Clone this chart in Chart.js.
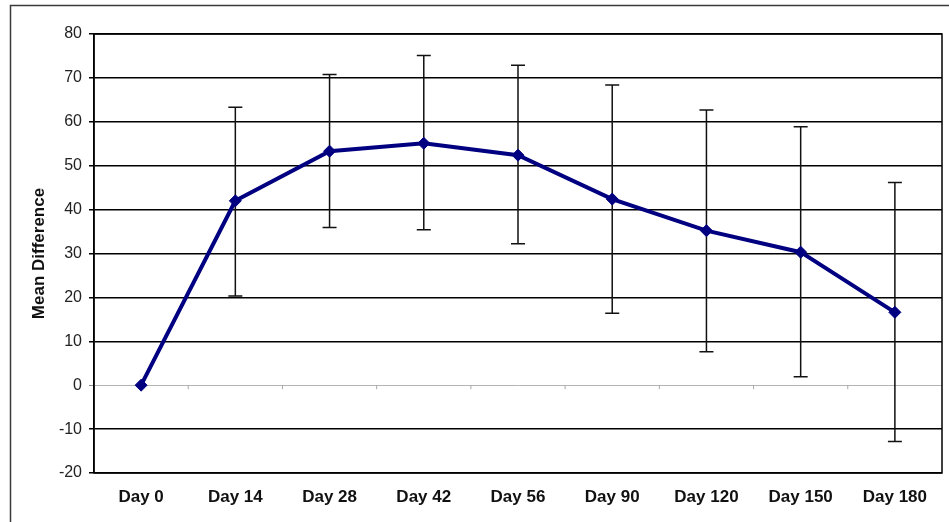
<!DOCTYPE html>
<html>
<head>
<meta charset="utf-8">
<script src="https://cdn.jsdelivr.net/npm/chart.js@4"></script>
<style>
  html, body { margin: 0; padding: 0; background: #fff; }
  #wrap { width: 949px; height: 522px; }
</style>
</head>
<body>
<div id="wrap"><canvas id="c" width="949" height="522"></canvas></div>
<script>
// Visit labels along the category axis
const categories = ['Day 0', 'Day 14', 'Day 28', 'Day 42', 'Day 56', 'Day 90', 'Day 120', 'Day 150', 'Day 180'];
// Mean difference at each visit
const meanDiff = [0, 42.0, 53.3, 55.1, 52.4, 42.4, 35.2, 30.3, 16.6];
// Upper and lower ends of the error bars (none at baseline)
const upperBound = [null, 63.3, 70.8, 75.1, 72.9, 68.4, 62.7, 58.9, 46.2];
const lowerBound = [null, 20.3, 35.9, 35.4, 32.2, 16.4, 7.6, 1.9, -12.8];
// Value axis ticks
const yTicks = [-20, -10, 0, 10, 20, 30, 40, 50, 60, 70, 80];

const FONT = '"Liberation Sans", Arial, sans-serif';

// White page with the outer frame lines
const framePlugin = {
  id: 'outerFrame',
  beforeDraw(chart) {
    const ctx = chart.ctx;
    ctx.save();
    ctx.fillStyle = '#fff';
    ctx.fillRect(0, 0, chart.width, chart.height);
    ctx.strokeStyle = '#3a3a3a';
    ctx.lineWidth = 1.5;
    ctx.beginPath();
    ctx.moveTo(10.5, chart.height);
    ctx.lineTo(10.5, 5.5);
    ctx.lineTo(chart.width, 5.5);
    ctx.stroke();
    ctx.restore();
  }
};

// Plot-area box, category ticks on the zero line, and error bars
const errorBarPlugin = {
  id: 'errorBars',
  beforeDatasetsDraw(chart) {
    const ctx = chart.ctx;
    const xs = chart.scales.x;
    const ys = chart.scales.y;
    const a = chart.chartArea;
    ctx.save();

    // box around the plot area
    ctx.strokeStyle = '#000';
    ctx.lineWidth = 1.5;
    ctx.strokeRect(a.left, a.top, a.right - a.left, a.bottom - a.top);

    // small ticks between categories on the zero line
    const y0 = ys.getPixelForValue(0);
    ctx.strokeStyle = '#a8a8a8';
    ctx.lineWidth = 1;
    for (let i = 1; i < categories.length; i++) {
      const xb = (xs.getPixelForValue(i - 1) + xs.getPixelForValue(i)) / 2;
      ctx.beginPath();
      ctx.moveTo(xb, y0);
      ctx.lineTo(xb, y0 + 4);
      ctx.stroke();
    }

    // error bars with caps
    ctx.strokeStyle = '#111';
    ctx.lineWidth = 1.5;
    const cap = 7;
    for (let i = 0; i < categories.length; i++) {
      if (upperBound[i] == null || lowerBound[i] == null) continue;
      const x = xs.getPixelForValue(i);
      const yu = ys.getPixelForValue(upperBound[i]);
      const yl = ys.getPixelForValue(lowerBound[i]);
      ctx.beginPath();
      ctx.moveTo(x, yu);
      ctx.lineTo(x, yl);
      ctx.moveTo(x - cap, yu);
      ctx.lineTo(x + cap, yu);
      ctx.moveTo(x - cap, yl);
      ctx.lineTo(x + cap, yl);
      ctx.stroke();
    }
    ctx.restore();
  }
};

new Chart(document.getElementById('c'), {
  type: 'line',
  data: {
    labels: categories,
    datasets: [{
      label: 'Mean Difference',
      data: meanDiff,
      borderColor: '#000080',
      backgroundColor: '#000080',
      borderWidth: 4,
      pointStyle: 'rectRot',
      pointRadius: 6,
      pointBorderWidth: 1,
      pointBackgroundColor: '#000080',
      pointBorderColor: '#000080',
      tension: 0,
      fill: false
    }]
  },
  options: {
    responsive: false,
    animation: false,
    devicePixelRatio: 1,
    layout: { padding: { top: 34, right: 6, left: 0, bottom: 0 } },
    plugins: {
      legend: { display: false },
      tooltip: { enabled: false }
    },
    scales: {
      x: {
        type: 'category',
        offset: true,
        afterFit(scale) { scale.height = 49; },
        grid: { display: false, drawTicks: false },
        border: { display: false },
        ticks: {
          color: '#111',
          padding: 14,
          maxRotation: 0,
          autoSkip: false,
          font: { family: FONT, size: 17, weight: 'bold' }
        }
      },
      y: {
        min: -20,
        max: 80,
        afterFit(scale) { scale.width = 94; },
        afterBuildTicks(scale) { scale.ticks = yTicks.map(v => ({ value: v })); },
        grid: {
          drawTicks: true,
          tickLength: 5,
          color: (c) => (c.tick && c.tick.value === 0 ? '#b4b4b4' : '#000'),
          tickColor: (c) => (c.tick && c.tick.value === 0 ? '#888' : '#000'),
          lineWidth: (c) => (c.tick && c.tick.value === 0 ? 1 : 1.5)
        },
        border: { display: true, color: '#000', width: 1.5 },
        ticks: {
          color: '#222',
          padding: 7,
          font: { family: FONT, size: 16 }
        },
        title: {
          display: true,
          text: 'Mean Difference',
          color: '#111',
          padding: { top: 29, bottom: 0 },
          font: { family: FONT, size: 17, weight: 'bold' }
        }
      }
    }
  },
  plugins: [framePlugin, errorBarPlugin]
});
</script>
</body>
</html>
